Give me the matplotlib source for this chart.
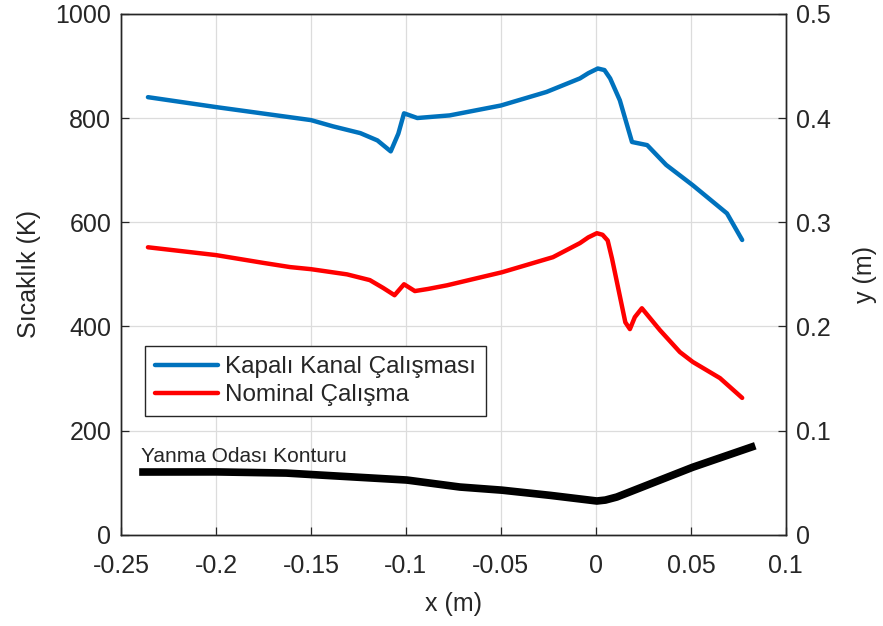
import matplotlib

matplotlib.use("Agg")
import matplotlib.pyplot as plt
from matplotlib.ticker import FuncFormatter

plt.rcParams["font.family"] = ["Liberation Sans", "DejaVu Sans"]

# Kapali kanal calismasi (blue), temperature in K
blue_x = [-0.2358, -0.2, -0.15, -0.1384, -0.124, -0.115, -0.108, -0.104, -0.101,
          -0.094, -0.077, -0.05, -0.026, -0.0084, -0.004, 0.001, 0.0045, 0.0075,
          0.0126, 0.019, 0.027, 0.037, 0.051, 0.069, 0.077]
blue_t = [840, 821, 796, 784, 771, 757, 736, 770, 809,
          800, 805, 824, 850, 876, 886, 895, 892, 876,
          834, 754, 748, 710, 671, 617, 566]

# Nominal calisma (red), temperature in K
red_x = [-0.2358, -0.2, -0.175, -0.161, -0.15, -0.131, -0.119, -0.112, -0.106,
         -0.101, -0.0953, -0.0884, -0.0784, -0.0495, -0.0226, -0.0084, -0.004,
         0.0005, 0.0035, 0.0062, 0.0085, 0.0116, 0.0155, 0.0179, 0.0205, 0.0242,
         0.0337, 0.0442, 0.051, 0.0653, 0.077]
red_t = [552, 537, 522, 514, 510, 500, 489, 474, 460,
         481, 468, 472, 479, 504, 533, 560, 571,
         579, 576, 565, 530, 476, 408, 395, 418, 435,
         393, 351, 332, 301, 263]

# Yanma odasi konturu (black), radius in m on the right axis
contour_x = [-0.2384, -0.1995, -0.163, -0.15, -0.0995, -0.0716, -0.0495, -0.024,
             0.0005, 0.005, 0.011, 0.051, 0.082]
contour_y = [0.0604, 0.0605, 0.0594, 0.058, 0.0527, 0.046, 0.043, 0.038,
             0.0326, 0.0335, 0.0364, 0.065, 0.0844]

x_ticks = [-0.25, -0.2, -0.15, -0.1, -0.05, 0, 0.05, 0.1]
t_ticks = [0, 200, 400, 600, 800, 1000]
r_ticks = [0, 0.1, 0.2, 0.3, 0.4, 0.5]

text_color = "#262626"
fs = 18

fig = plt.figure(figsize=(8.83, 6.26), dpi=100)
ax = fig.add_axes([0.137, 0.1454, 0.753, 0.8326])
ax2 = ax.twinx()

line_b, = ax.plot(blue_x, blue_t, color="#0072BD", lw=3.2, label="Kapalı Kanal Çalışması",
                  solid_joinstyle="round", solid_capstyle="round")
line_r, = ax.plot(red_x, red_t, color="#FF0000", lw=3.2, label="Nominal Çalışma",
                  solid_joinstyle="round", solid_capstyle="round")
ax2.plot(contour_x, contour_y, color="black", lw=5.5, solid_joinstyle="round")

fmt = FuncFormatter(lambda v, p: f"{v:g}")
ax.set_xlim(-0.25, 0.1)
ax.set_ylim(0, 1000)
ax2.set_ylim(0, 0.5)
ax.set_xticks(x_ticks)
ax.set_yticks(t_ticks)
ax2.set_yticks(r_ticks)
ax.xaxis.set_major_formatter(fmt)
ax2.yaxis.set_major_formatter(fmt)

ax.grid(True, color="#dcdcdc", lw=0.9)
ax.set_axisbelow(True)
for a in (ax, ax2):
    for s in a.spines.values():
        s.set_color(text_color)
        s.set_linewidth(1.0)
    a.tick_params(direction="in", length=6, width=0.9, colors=text_color,
                  labelsize=fs, pad=7)
ax.tick_params(axis="x", pad=14)

ax.set_xlabel("x (m)", fontsize=fs, color=text_color, labelpad=10)
ax.set_ylabel("Sıcaklık (K)", fontsize=fs, color=text_color, labelpad=10)
ax2.set_ylabel("y (m)", fontsize=fs, color=text_color, labelpad=16)

ax.text(-0.2392, 140, "Yanma Odası Konturu", fontsize=15,
        color=text_color, va="baseline", ha="left")

leg = ax.legend(handles=[line_b, line_r], loc="upper left",
                bbox_to_anchor=(0.036, 0.362), borderaxespad=0, fontsize=17.5,
                fancybox=False, framealpha=1, edgecolor=text_color,
                handlelength=2.6, handletextpad=0.3, borderpad=0.4,
                labelspacing=0.25)
leg.get_frame().set_linewidth(1.0)
for t in leg.get_texts():
    t.set_color(text_color)

fig.savefig("out.png", dpi=100)
